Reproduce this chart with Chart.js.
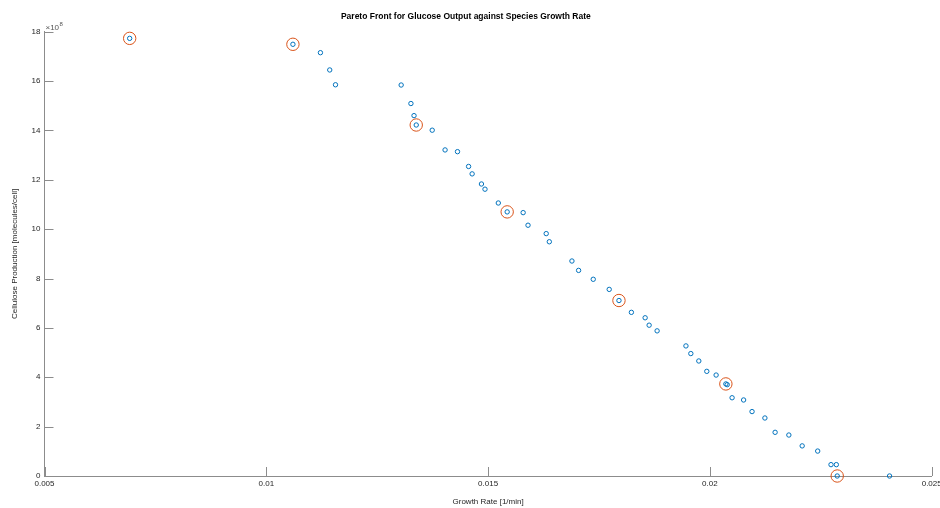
<!DOCTYPE html>
<html>
<head>
<meta charset="utf-8">
<title>Pareto Front</title>
<script src="https://cdn.jsdelivr.net/npm/chart.js@4.4.1/dist/chart.umd.min.js"></script>
<style>
  html, body { margin: 0; padding: 0; background: #fff; }
</style>
</head>
<body>
<canvas id="paretoChart" width="940" height="508"></canvas>
<script>
// all candidate solutions (growth rate in 1/min, cellulose in units of 1e8 molecules/cell)
const growthRate = [0.00692, 0.01060, 0.01122, 0.01143, 0.01156, 0.01304, 0.01326, 0.01333, 0.01338, 0.01374,
    0.01403, 0.01431, 0.01456, 0.01464, 0.01485, 0.01493, 0.01523, 0.01543, 0.01579, 0.01590,
    0.01631, 0.01638, 0.01689, 0.01704, 0.01737, 0.01773, 0.01795, 0.01823, 0.01854, 0.01863,
    0.01881, 0.01946, 0.01957, 0.01975, 0.01993, 0.02014, 0.02036, 0.02039, 0.02050, 0.02076,
    0.02095, 0.02124, 0.02147, 0.02178, 0.02208, 0.02243, 0.02273, 0.02285, 0.02287, 0.02405];
const cellulose = [17.73, 17.49, 17.15, 16.45, 15.85, 15.84, 15.09, 14.60, 14.22, 14.01,
    13.21, 13.14, 12.54, 12.24, 11.83, 11.62, 11.06, 10.70, 10.67, 10.16,
    9.82, 9.49, 8.71, 8.33, 7.97, 7.56, 7.11, 6.63, 6.41, 6.11,
    5.88, 5.27, 4.96, 4.66, 4.24, 4.09, 3.73, 3.70, 3.17, 3.08,
    2.61, 2.35, 1.77, 1.66, 1.22, 1.01, 0.46, 0.46, 0.00, 0.00];

// highlighted solutions (orange rings)
const selRate = [0.00692, 0.01060, 0.01338, 0.01543, 0.01795, 0.02036, 0.02287];
const selCellulose = [17.73, 17.49, 14.22, 10.70, 7.11, 3.73, 0.00];

// axis ticks
const xTicks = [0.005, 0.01, 0.015, 0.02, 0.025];
const yTicks = [0, 2, 4, 6, 8, 10, 12, 14, 16, 18];

const axisColor = "#8c8c8c";
const textColor = "#262626";
const fontFamily = '"Liberation Sans", Arial, Helvetica, sans-serif';

function toPoints(xs, ys) {
    return xs.map((x, i) => ({ x: x, y: ys[i] }));
}

// matlab style ticks pointing into the plot + the x10^8 exponent
const insideTicks = {
    id: "insideTicks",
    afterDraw(chart) {
        const ctx = chart.ctx;
        const xs = chart.scales.x;
        const ys = chart.scales.y;
        const area = chart.chartArea;
        ctx.save();
        ctx.strokeStyle = axisColor;
        ctx.lineWidth = 1;
        ctx.beginPath();
        xTicks.forEach(v => {
            const px = Math.round(xs.getPixelForValue(v)) + 0.5;
            ctx.moveTo(px, area.bottom);
            ctx.lineTo(px, area.bottom - 9);
        });
        yTicks.forEach(v => {
            const py = Math.round(ys.getPixelForValue(v)) + 0.5;
            ctx.moveTo(area.left, py);
            ctx.lineTo(area.left + 9, py);
        });
        ctx.stroke();

        ctx.fillStyle = "#555";
        ctx.textBaseline = "alphabetic";
        ctx.font = "8px " + fontFamily;
        ctx.fillText("\u00d710", area.left + 1, area.top - 2);
        const w = ctx.measureText("\u00d710").width;
        ctx.font = "6px " + fontFamily;
        ctx.fillText("8", area.left + 1.5 + w, area.top - 6);
        ctx.restore();
    }
};

new Chart("paretoChart", {
    type: "scatter",
    data: {
        datasets: [{
            label: "Solutions",
            data: toPoints(growthRate, cellulose),
            borderColor: "#0072BD",
            backgroundColor: "rgba(0,0,0,0)",
            borderWidth: 1,
            pointRadius: 2.2,
            pointHoverRadius: 2.2,
            clip: false
        }, {
            label: "Selected",
            data: toPoints(selRate, selCellulose),
            borderColor: "#D95319",
            backgroundColor: "rgba(0,0,0,0)",
            borderWidth: 1,
            pointRadius: 6.2,
            pointHoverRadius: 6.2,
            clip: false
        }]
    },
    options: {
        responsive: false,
        animation: false,
        devicePixelRatio: 1,
        layout: {
            padding: { left: 0, right: 8.3, top: 0, bottom: 0 }
        },
        plugins: {
            legend: { display: false },
            tooltip: { enabled: false },
            title: {
                display: true,
                text: "Pareto Front for Glucose Output against Species Growth Rate",
                color: "#000",
                font: { family: fontFamily, size: 8.5, weight: "bold" },
                padding: { top: 11.2, bottom: 10.3 }
            }
        },
        scales: {
            x: {
                type: "linear",
                min: 0.005,
                max: 0.025,
                grid: { display: false, drawTicks: false },
                border: { display: true, color: axisColor, width: 1 },
                afterBuildTicks: scale => {
                    scale.ticks = xTicks.map(v => ({ value: v }));
                },
                ticks: {
                    color: textColor,
                    font: { family: fontFamily, size: 8 },
                    padding: 3,
                    maxRotation: 0,
                    callback: v => String(parseFloat(v.toFixed(4)))
                },
                title: {
                    display: true,
                    text: "Growth Rate [1/min]",
                    color: textColor,
                    font: { family: fontFamily, size: 8 },
                    padding: { top: 0, bottom: 1.2 }
                },
                afterFit: scale => {
                    scale.height = 32;
                    scale.paddingLeft = 0;
                    scale.paddingRight = 0;
                }
            },
            y: {
                type: "linear",
                min: 0,
                max: 18,
                grid: { display: false, drawTicks: false },
                border: { display: true, color: axisColor, width: 1 },
                afterBuildTicks: scale => {
                    scale.ticks = yTicks.map(v => ({ value: v }));
                },
                ticks: {
                    color: textColor,
                    font: { family: fontFamily, size: 8 },
                    padding: 4
                },
                title: {
                    display: true,
                    text: "Cellulose Production [molecules/cell]",
                    color: textColor,
                    font: { family: fontFamily, size: 8 },
                    padding: { top: 10, bottom: 0 }
                },
                afterFit: scale => {
                    scale.width = 44.5;
                }
            }
        }
    },
    plugins: [insideTicks]
});
</script>
</body>
</html>
